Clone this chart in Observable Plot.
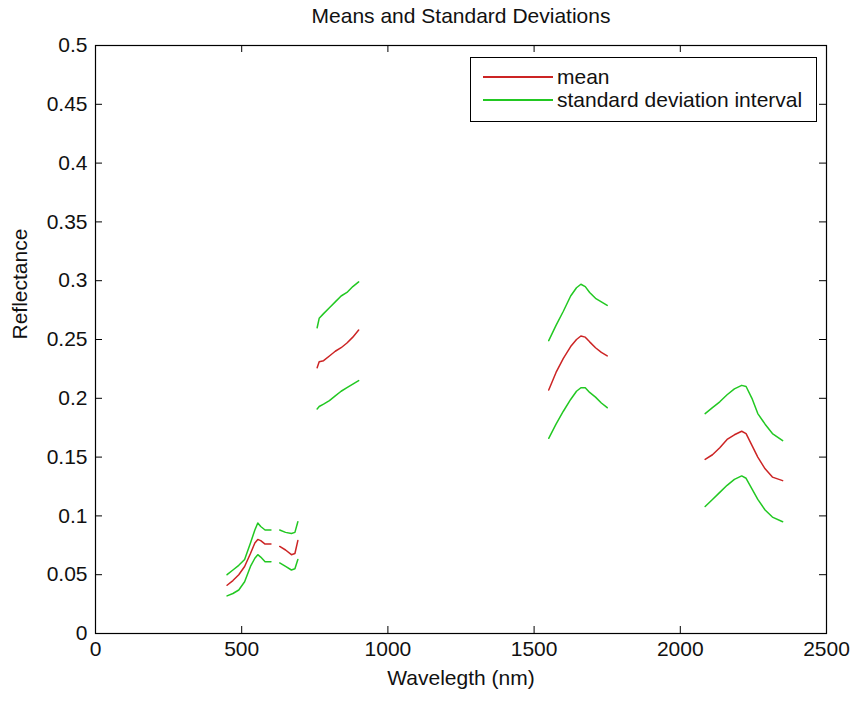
<!DOCTYPE html>
<html>
<head>
<meta charset="utf-8">
<script src="https://cdn.jsdelivr.net/npm/d3@7"></script>
<script src="https://cdn.jsdelivr.net/npm/@observablehq/plot@0.6"></script>
<style>
  html, body { margin: 0; padding: 0; background: #fff; }
  #wrap { position: relative; width: 853px; height: 702px; font-family: "Liberation Sans", Arial, sans-serif; }
  #legend { position: absolute; left: 470px; top: 57px; width: 347px; height: 65px; border: 1px solid #000; background: #fff; box-sizing: border-box; font-size: 21px; color: #111; }
  .row { position: absolute; left: 12px; height: 24px; display: flex; align-items: center; }
  .sw { width: 70px; height: 0; border-top: 2px solid; margin-right: 4px; }
</style>
</head>
<body>
<div id="wrap"></div>
<script>
// ---- data ----
const titleText = "Means and Standard Deviations";
const xLabel = "Wavelegth (nm)";
const yLabel = "Reflectance";
const seriesNames = ["mean", "standard deviation interval"];
const seriesColors = ["#cc2424", "#22c822"];

// wavelengths (nm); null marks a gap in the spectrum
const wavelength = [
  450, 470, 490, 510, 530, 545, 555, 565, 580, 600, null,
  630, 650, 670, 682, 692, null,
  758, 765, 780, 800, 820, 840, 860, 880, 900, null,
  1550, 1575, 1600, 1625, 1645, 1660, 1675, 1690, 1710, 1730, 1750, null,
  2085, 2110, 2135, 2160, 2185, 2210, 2225, 2245, 2265, 2290, 2315, 2350
];
const meanValues = [
  0.041, 0.045, 0.050, 0.057, 0.068, 0.077, 0.080, 0.079, 0.076, 0.076, null,
  0.074, 0.071, 0.067, 0.068, 0.079, null,
  0.226, 0.231, 0.232, 0.236, 0.240, 0.243, 0.247, 0.252, 0.258, null,
  0.207, 0.222, 0.234, 0.244, 0.250, 0.253, 0.252, 0.248, 0.243, 0.239, 0.236, null,
  0.148, 0.152, 0.158, 0.165, 0.169, 0.172, 0.170, 0.160, 0.150, 0.140, 0.133, 0.130
];
const upperValues = [
  0.050, 0.054, 0.058, 0.063, 0.077, 0.088, 0.094, 0.091, 0.088, 0.088, null,
  0.088, 0.086, 0.085, 0.086, 0.095, null,
  0.260, 0.268, 0.272, 0.277, 0.282, 0.287, 0.290, 0.295, 0.299, null,
  0.249, 0.262, 0.274, 0.287, 0.294, 0.297, 0.295, 0.290, 0.285, 0.282, 0.279, null,
  0.187, 0.192, 0.197, 0.203, 0.208, 0.211, 0.210, 0.200, 0.187, 0.178, 0.170, 0.164
];
const lowerValues = [
  0.032, 0.034, 0.037, 0.044, 0.057, 0.064, 0.067, 0.065, 0.061, 0.061, null,
  0.060, 0.057, 0.054, 0.055, 0.063, null,
  0.191, 0.193, 0.195, 0.198, 0.202, 0.206, 0.209, 0.212, 0.215, null,
  0.166, 0.178, 0.189, 0.199, 0.206, 0.209, 0.209, 0.205, 0.201, 0.196, 0.192, null,
  0.108, 0.114, 0.120, 0.126, 0.131, 0.134, 0.132, 0.123, 0.114, 0.105, 0.099, 0.095
];
const xTickValues = [0, 500, 1000, 1500, 2000, 2500];
const yTickValues = [0, 0.05, 0.1, 0.15, 0.2, 0.25, 0.3, 0.35, 0.4, 0.45, 0.5];

// ---- build rows ----
function rows(values) {
  return wavelength.map((w, i) => ({x: w, y: (w == null || values[i] == null) ? NaN : values[i]}));
}

const W = 853, H = 702;
const mL = 95, mR = 27, mT = 45, mB = 69;
const frameW = W - mL - mR, frameH = H - mT - mB;
const tickLen = 7;

const chart = Plot.plot({
  width: W,
  height: H,
  marginLeft: mL,
  marginRight: mR,
  marginTop: mT,
  marginBottom: mB,
  style: {fontFamily: "'Liberation Sans', Arial, sans-serif", fontSize: "21px", color: "#111", background: "#fff"},
  x: {domain: [0, 2500]},
  y: {domain: [0, 0.5]},
  marks: [
    Plot.frame({stroke: "#000", strokeWidth: 1.2}),
    // inward ticks (bottom, top, left, right)
    Plot.tickX(xTickValues, {x: d => d, insetTop: frameH - tickLen, stroke: "#000"}),
    Plot.tickX(xTickValues, {x: d => d, insetBottom: frameH - tickLen, stroke: "#000"}),
    Plot.tickY(yTickValues, {y: d => d, insetRight: frameW - tickLen, stroke: "#000"}),
    Plot.tickY(yTickValues, {y: d => d, insetLeft: frameW - tickLen, stroke: "#000"}),
    Plot.axisX({ticks: xTickValues, tickSize: 0, tickPadding: 8, tickFormat: d => String(d), label: null, fill: "#111"}),
    Plot.axisY({ticks: yTickValues, tickSize: 0, tickPadding: 8, tickFormat: d => String(d), label: null, fill: "#111"}),
    Plot.line(rows(upperValues), {x: "x", y: "y", stroke: seriesColors[1], strokeWidth: 1.5}),
    Plot.line(rows(lowerValues), {x: "x", y: "y", stroke: seriesColors[1], strokeWidth: 1.5}),
    Plot.line(rows(meanValues), {x: "x", y: "y", stroke: seriesColors[0], strokeWidth: 1.5}),
    Plot.text([titleText], {frameAnchor: "top", dy: -37, fill: "#111"}),
    Plot.text([xLabel], {frameAnchor: "bottom", dy: 51, fill: "#111"}),
    Plot.text([yLabel], {frameAnchor: "left", dx: -75, rotate: -90, fill: "#111"})
  ]
});

const wrap = document.getElementById("wrap");
wrap.appendChild(chart);

const legend = document.createElement("div");
legend.id = "legend";
seriesNames.forEach((name, i) => {
  const row = document.createElement("div");
  row.className = "row";
  row.style.top = (7 + i * 23) + "px";
  const sw = document.createElement("span");
  sw.className = "sw";
  sw.style.borderTopColor = seriesColors[i];
  const label = document.createElement("span");
  label.textContent = name;
  row.appendChild(sw);
  row.appendChild(label);
  legend.appendChild(row);
});
wrap.appendChild(legend);
</script>
</body>
</html>
